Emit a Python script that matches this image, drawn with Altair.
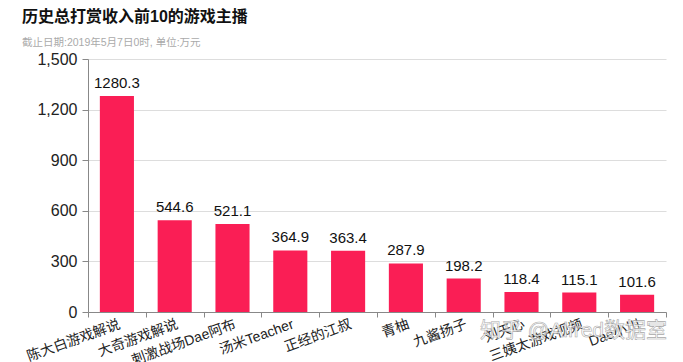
import altair as alt
import pandas as pd

names = ["陈大白游戏解说", "大奇游戏解说", "刺激战场Dae阿布", "汤米Teacher", "正经的江叔",
         "青柚", "九酱扬子", "刘天心", "三姨太游戏视频", "Dae小川"]
values = [1280.3, 544.6, 521.1, 364.9, 363.4, 287.9, 198.2, 118.4, 115.1, 101.6]
y_ticks = [0, 300, 600, 900, 1200, 1500]

title_text = "历史总打赏收入前10的游戏主播"
subtitle_text = "截止日期:2019年5月7日0时, 单位:万元"
watermark = "知乎 @Alfred数据室"

df = pd.DataFrame({"name": names, "value": values})
FONT = "Liberation Sans, Noto Sans CJK SC, sans-serif"

x = alt.X("name:N", sort=names, title=None,
          scale=alt.Scale(paddingInner=0, paddingOuter=0),
          axis=alt.Axis(labelAngle=-20, labelAlign="right", labelBaseline="top",
                        labelFontSize=14, labelColor="#222", labelFont=FONT,
                        labelPadding=0, tickBand="extent", tickSize=5,
                        tickColor="#888", domainColor="#888", labelOverlap=False))
y = alt.Y("value:Q", title=None, scale=alt.Scale(domain=[0, 1500], nice=False),
          axis=alt.Axis(values=y_ticks, format=",.0f", labelFontSize=16, labelColor="#222",
                        labelFont=FONT, tickSize=6, tickColor="#888", domainColor="#888",
                        labelPadding=5, gridColor="#dddddd"))

base = alt.Chart(df)
bars = base.mark_bar(color="#FA1E55", width=alt.RelativeBandSize(0.59)).encode(x=x, y=y)
labels = base.mark_text(dy=-5, baseline="bottom", fontSize=15, color="#111", font=FONT).encode(
    x=alt.X("name:N", sort=names), y="value:Q", text=alt.Text("value:Q", format=".1f"))
wm = alt.Chart(pd.DataFrame({"t": [watermark]})).mark_text(
    align="left", baseline="middle", fontSize=21, color="#ffffff", stroke="#9a9a9a",
    strokeWidth=0.6, opacity=0.85, font=FONT
).encode(x=alt.value(392), y=alt.value(272), text="t:N")

chart = alt.layer(bars, labels, wm).properties(
    width=578, height=253,
    autosize=alt.AutoSizeParams(type="none"),
    padding={"left": 80, "top": 51, "right": 9, "bottom": 52},
    title=alt.TitleParams(title_text, subtitle=subtitle_text, anchor="start", frame="group",
                          dx=-66, offset=3, fontSize=16, fontWeight="bold", color="#111",
                          font=FONT, subtitleFont=FONT, subtitleFontSize=10.5,
                          subtitleColor="#aaaaaa", subtitlePadding=13)
).configure_view(stroke=None)

chart.save("out.html", embed_options={"renderer": "svg", "actions": False})
